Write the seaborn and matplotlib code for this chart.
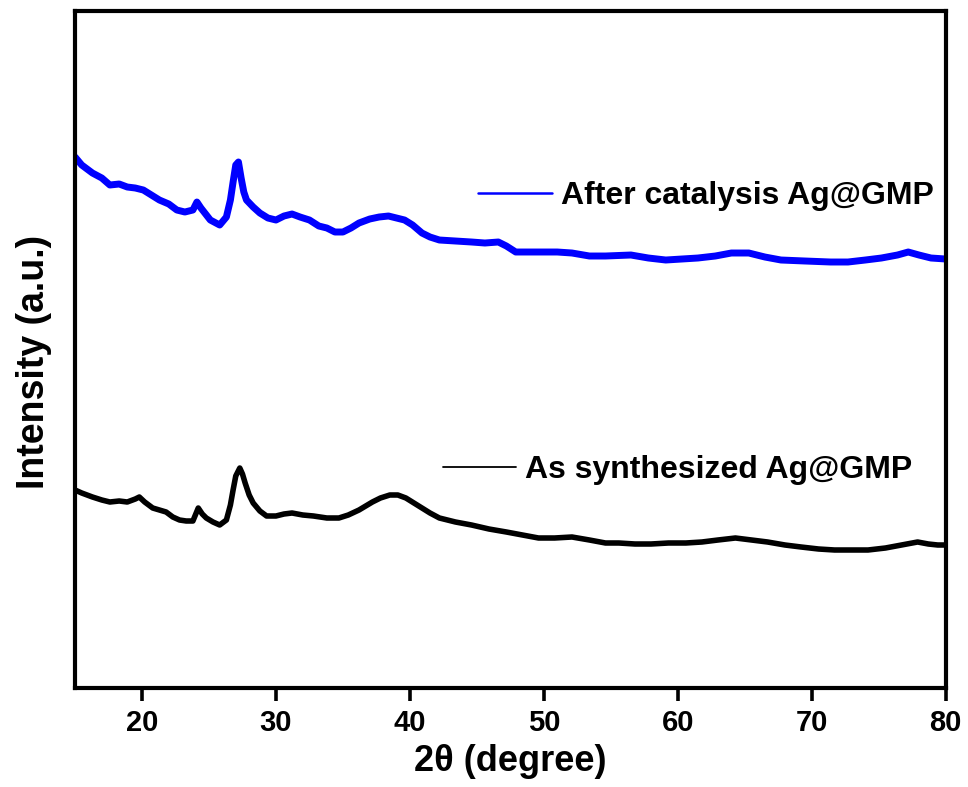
import matplotlib
matplotlib.use("Agg")
import matplotlib.pyplot as plt
import seaborn as sns
import pandas as pd
from matplotlib.lines import Line2D

# XRD patterns of Ag@GMP (2-theta in degrees, intensity in arbitrary units)
two_theta_after = [15.0, 15.5, 16.3, 17.0, 17.6, 18.3, 18.9, 19.5, 20.1, 20.7, 21.3, 22.0,
                   22.6, 23.2, 23.8, 24.1, 24.4, 25.1, 25.8, 26.3, 26.6, 26.8, 27.0, 27.2,
                   27.4, 27.6, 27.8, 28.3, 28.8, 29.4, 30.0, 30.6, 31.2, 31.8, 32.5, 33.2,
                   33.8, 34.4, 35.0, 35.6, 36.2, 37.0, 37.7, 38.4, 39.0, 39.6, 40.2, 40.9,
                   41.5, 42.2, 43.4, 44.6, 45.6, 46.6, 47.2, 47.9, 49.6, 51.0, 52.1, 53.4,
                   54.6, 56.5, 57.8, 59.1, 60.3, 61.5, 62.8, 64.0, 65.3, 66.5, 67.7, 69.5,
                   71.4, 72.7, 74.0, 75.2, 76.4, 77.2, 78.0, 78.9, 80.0]
intensity_after = [531, 523, 515, 510, 503, 504, 501, 500, 498, 493, 488, 484,
                   478, 476, 478, 486, 480, 468, 463, 471, 488, 506, 523, 526,
                   510, 496, 488, 481, 475, 470, 468, 472, 474, 471, 468, 462,
                   460, 456, 456, 460, 465, 469, 471, 472, 470, 468, 463, 455,
                   451, 448, 447, 446, 445, 446, 442, 436, 436, 436, 435, 432,
                   432, 433, 430, 428, 429, 430, 432, 435, 435, 431, 428, 427,
                   426, 426, 428, 430, 433, 436, 433, 430, 429]

two_theta_as = [15.0, 15.5, 16.3, 17.0, 17.6, 18.3, 18.9, 19.5, 19.8, 20.2, 20.8, 21.3,
                21.8, 22.3, 22.8, 23.3, 23.8, 24.2, 24.5, 24.8, 25.3, 25.8, 26.3, 26.6,
                26.8, 27.0, 27.3, 27.5, 27.7, 28.0, 28.3, 28.8, 29.3, 30.0, 30.6, 31.2,
                32.0, 32.8, 33.8, 34.7, 35.4, 36.2, 37.2, 37.8, 38.5, 39.1, 39.7, 40.3,
                40.9, 41.5, 42.2, 43.4, 44.6, 45.9, 47.2, 48.4, 49.6, 50.8, 52.1, 53.4,
                54.6, 55.6, 56.8, 58.0, 59.3, 60.6, 61.8, 63.0, 64.3, 65.5, 66.7, 68.0,
                69.2, 70.5, 71.7, 73.0, 74.2, 75.5, 76.7, 77.9, 78.7, 79.4, 80.0]
intensity_as = [198, 195, 191, 188, 186, 187, 186, 189, 191, 186, 180, 178,
                176, 171, 168, 167, 167, 180, 174, 170, 166, 163, 168, 183,
                198, 212, 220, 214, 205, 193, 185, 177, 172, 172, 174, 175,
                173, 172, 170, 170, 173, 178, 186, 190, 193, 193, 190, 185,
                180, 175, 170, 166, 163, 159, 156, 153, 150, 150, 151, 148,
                145, 145, 144, 144, 145, 145, 146, 148, 150, 148, 146, 143,
                141, 139, 138, 138, 138, 140, 143, 146, 144, 143, 143]

labels = ["After catalysis Ag@GMP", "As synthesized Ag@GMP"]
colors = ["#0000ff", "#000000"]

df = pd.concat([
    pd.DataFrame({"two_theta": two_theta_after, "intensity": intensity_after, "sample": labels[0]}),
    pd.DataFrame({"two_theta": two_theta_as, "intensity": intensity_as, "sample": labels[1]}),
], ignore_index=True)

sns.set_theme(style="white")
plt.rcParams["font.family"] = ["Liberation Sans", "DejaVu Sans"]
plt.rcParams["font.weight"] = "bold"
plt.rcParams["text.color"] = "black"
plt.rcParams["axes.labelcolor"] = "black"
plt.rcParams["xtick.color"] = "black"
plt.rcParams["xtick.labelcolor"] = "black"

fig = plt.figure(figsize=(9.68, 7.87), dpi=100)
ax = fig.add_axes([0.0775, 0.1258, 0.8995, 0.8602])

sns.lineplot(data=df, x="two_theta", y="intensity", hue="sample",
             palette=dict(zip(labels, colors)), size="sample",
             sizes={labels[0]: 5.0, labels[1]: 4.0}, legend=False,
             sort=False, estimator=None, ax=ax)

ax.set_xlim(15, 80)
ax.set_ylim(0, 677)
ax.set_xticks([20, 30, 40, 50, 60, 70, 80])
ax.set_yticks([])
ax.tick_params(axis="x", which="major", direction="out", length=9, width=2.6,
               bottom=True, labelsize=21, pad=6, color="black", labelcolor="black")
for lab in ax.get_xticklabels():
    lab.set_fontweight("bold")

for s in ax.spines.values():
    s.set_visible(True)
    s.set_color("black")
    s.set_linewidth(3.0)

ax.set_xlabel("2θ (degree)", fontsize=26, fontweight="bold", color="black", labelpad=5)
ax.set_ylabel("Intensity (a.u.)", fontsize=27, fontweight="bold", color="black")
ax.yaxis.set_label_coords(-0.027, 0.482)

# one key per curve, each beside its own trace
leg_font = {"family": ["Liberation Sans", "DejaVu Sans"], "weight": "bold", "size": 23}
h_after = Line2D([], [], color=colors[0], linewidth=1.8)
h_as = Line2D([], [], color=colors[1], linewidth=1.3)
leg1 = ax.legend([h_after], [labels[0]], loc="center right", bbox_to_anchor=(1.008, 0.727),
                 frameon=False, prop=leg_font, handlelength=2.3, handletextpad=0.28,
                 borderaxespad=0.2, labelcolor="black")
ax.add_artist(leg1)
ax.legend([h_as], [labels[1]], loc="center right", bbox_to_anchor=(0.984, 0.322),
          frameon=False, prop=leg_font, handlelength=2.3, handletextpad=0.28,
          borderaxespad=0.2, labelcolor="black")

fig.savefig("out.png", dpi=100, facecolor="white")
